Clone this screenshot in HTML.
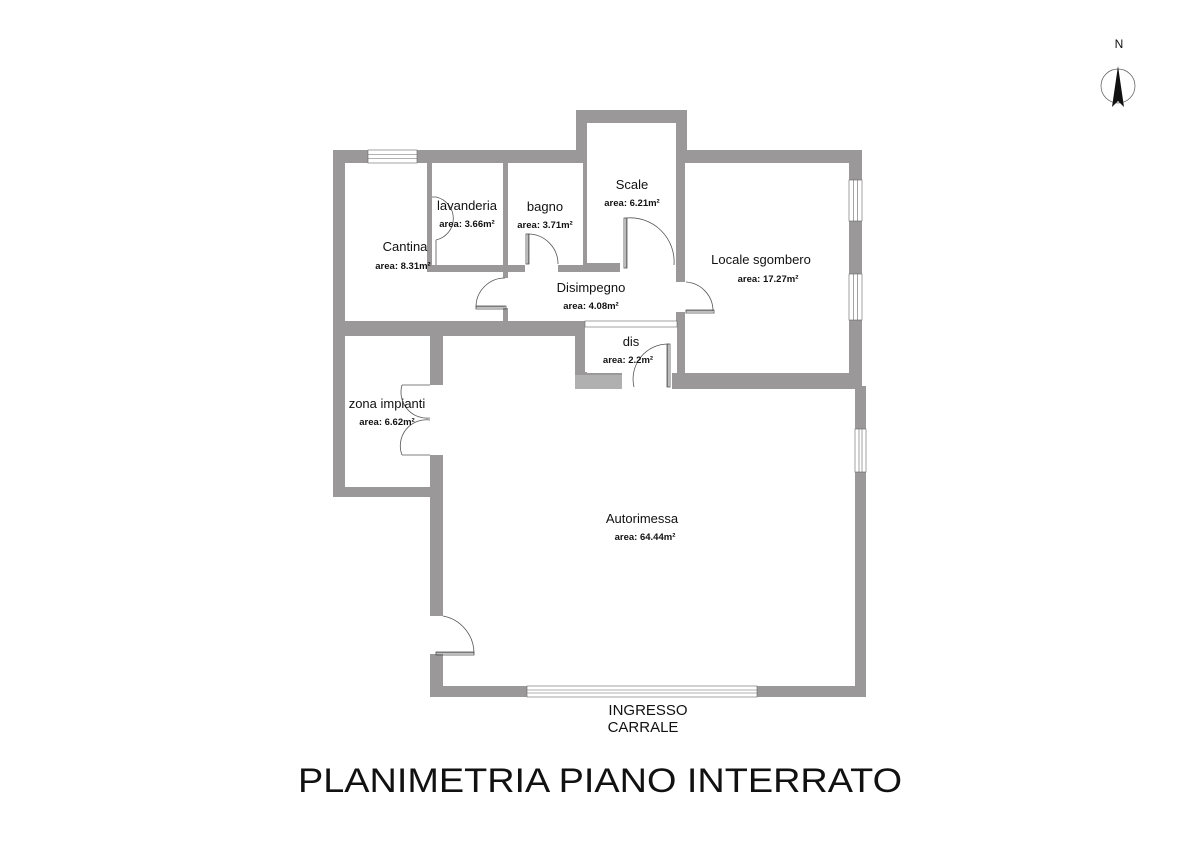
<!DOCTYPE html>
<html><head><meta charset="utf-8"><style>
html,body{margin:0;padding:0;background:#fff;}
svg{display:block;}
.t{font-family:"Liberation Sans",sans-serif;fill:#111;}
.r{font-size:13px;}
.a{font-size:9.5px;font-weight:bold;}
</style></head><body>
<svg width="1200" height="850" viewBox="0 0 1200 850" xmlns="http://www.w3.org/2000/svg">
<rect width="1200" height="850" fill="#fff"/>
<polygon fill="#9a9898" points="333,150 576,150 576,110 687,110 687,150 862,150 862,386 866,386 866,697 430,697 430,497 333,497"/>
<g fill="#fff">
<rect x="345" y="163" width="82" height="158"/>
<rect x="345" y="272" width="158" height="49"/>
<rect x="432" y="163" width="71" height="102"/>
<rect x="508" y="163" width="75" height="102"/>
<rect x="587" y="123" width="89" height="140"/>
<rect x="620" y="262" width="56" height="12"/>
<rect x="508" y="272" width="168" height="49"/>
<rect x="585" y="327" width="92" height="46"/>
<rect x="622" y="372" width="50" height="17"/>
<rect x="685" y="163" width="164" height="210"/>
<rect x="345" y="336" width="85" height="151"/>
<rect x="443" y="336" width="132" height="350"/>
<rect x="443" y="389" width="412" height="297"/>
<rect x="503" y="278" width="6" height="30"/>
<rect x="676" y="282" width="10" height="30"/>
<rect x="525" y="264" width="33" height="9"/>
<rect x="429" y="385" width="15" height="70"/>
<rect x="429" y="616" width="15" height="38"/>
<rect x="575" y="372" width="12" height="3" fill="#9a9898"/>
</g>
<path d="M575,375 L622,375 L622,389 L575,389 Z" fill="#b0b0b0"/>
<g fill="#fff" stroke="#666" stroke-width="0.6">
<rect x="368" y="150" width="49" height="13"/>
<line x1="368" y1="154.5" x2="417" y2="154.5"/><line x1="368" y1="158.5" x2="417" y2="158.5"/>
<rect x="849" y="180" width="13" height="41"/>
<line x1="853.5" y1="180" x2="853.5" y2="221"/><line x1="857.5" y1="180" x2="857.5" y2="221"/>
<rect x="849" y="274" width="13" height="46"/>
<line x1="853.5" y1="274" x2="853.5" y2="320"/><line x1="857.5" y1="274" x2="857.5" y2="320"/>
<rect x="855" y="429" width="11" height="43"/>
<line x1="859" y1="429" x2="859" y2="472"/><line x1="862" y1="429" x2="862" y2="472"/>
<rect x="527" y="686" width="230" height="11"/>
<line x1="527" y1="690" x2="757" y2="690"/><line x1="527" y1="693" x2="757" y2="693"/>
<rect x="585" y="321" width="92" height="6"/>
</g>
<g fill="none" stroke="#555" stroke-width="0.8">
<path d="M626,218 L626,268 M626,218 A44,44 0 0 1 674,265"/><rect x="624" y="218" width="3" height="50"/>
<path d="M528,234 L528,264 M528,234 A30,30 0 0 1 558,264"/><rect x="526" y="234" width="3" height="30"/>
<path d="M476,307 L505,307 M505,278 A29,29 0 0 0 476,307"/><rect x="476" y="306" width="30" height="3"/>
<path d="M686,311 L713,311 M686,282 A29,29 0 0 1 713,311"/><rect x="686" y="310" width="28" height="3"/>
<path d="M668,344 L668,387 M668,344 A35,35 0 0 0 634,387"/><rect x="667" y="344" width="3" height="43"/>
<path d="M402,385 L430,385 M402,385 A26,26 0 0 0 430,418 M402,455 L430,455 M402,455 A26,26 0 0 1 430,420"/>
<path d="M436,653 L474,653 M443,616 A38,38 0 0 1 474,653"/><rect x="436" y="652" width="38" height="3"/>
<path d="M432,197 L436,197 A22,22 0 0 1 436,240 M436,240 L436,265"/>
</g>
<g class="t" text-anchor="middle">
<text class="r" x="405" y="251">Cantina</text><text class="a" x="403" y="269">area: 8.31m²</text>
<text class="r" x="467" y="210">lavanderia</text><text class="a" x="467" y="227">area: 3.66m²</text>
<text class="r" x="545" y="211">bagno</text><text class="a" x="545" y="228">area: 3.71m²</text>
<text class="r" x="632" y="189">Scale</text><text class="a" x="632" y="206">area: 6.21m²</text>
<text class="r" x="591" y="292">Disimpegno</text><text class="a" x="591" y="309">area: 4.08m²</text>
<text class="r" x="631" y="346">dis</text><text class="a" x="628" y="363">area: 2.2m²</text>
<text class="r" x="761" y="264">Locale sgombero</text><text class="a" x="768" y="282">area: 17.27m²</text>
<text class="r" x="387" y="408">zona impianti</text><text class="a" x="387" y="425">area: 6.62m²</text>
<text class="r" x="642" y="523">Autorimessa</text><text class="a" x="645" y="540">area: 64.44m²</text>
<text x="648" y="715" font-size="15">INGRESSO</text>
<text x="643" y="732" font-size="15">CARRALE</text>
<text x="600" y="792" font-size="34" textLength="604" lengthAdjust="spacingAndGlyphs">PLANIMETRIA PIANO INTERRATO</text>
<text x="1119" y="48" font-size="12">N</text>
</g>
<circle cx="1118" cy="86" r="17" fill="none" stroke="#555" stroke-width="0.7"/>
<polygon points="1118,66 1112,107 1118,101 1124,107" fill="#111"/>
</svg>
</body></html>
